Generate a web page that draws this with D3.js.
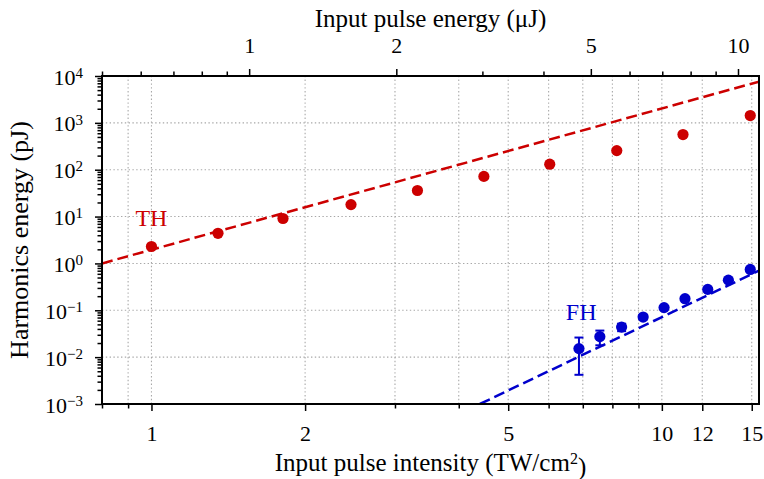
<!DOCTYPE html>
<html>
<head>
<meta charset="utf-8">
<title>Harmonics energy</title>
<script src="https://d3js.org/d3.v7.min.js"></script>
<style>
  body { margin: 0; background: #fff; }
  text { font-family: "Liberation Serif", "Times New Roman", serif; }
</style>
</head>
<body>
<script>
// 数据
var thIntensity = [1.0, 1.35, 1.81, 2.46, 3.32, 4.48, 6.03, 8.16, 11.0, 14.9];
var thEnergy = [2.3, 4.4, 9.1, 18, 36, 72, 131, 256, 563, 1430];
var fhIntensity = [6.88, 7.56, 8.34, 9.19, 10.1, 11.1, 12.3, 13.5, 14.9];
var fhEnergy = [0.0152, 0.0274, 0.0438, 0.0716, 0.114, 0.177, 0.279, 0.44, 0.745];
var fhErr = [0.011, 0.0095, 0.008, 0.008, 0.008, 0.01, 0.012, 0.015, 0.02];
// 拟合线 (两个端点)
var thFitX = [0.8, 15.5], thFitY = [1.0, 7600];
var fhFitX = [4.4, 15.5], fhFitY = [0.001, 0.70];

var bottomMajor = [1, 2, 5, 10, 12, 15];
var bottomMinor = [0.8, 0.9, 3, 4, 6, 7, 8, 9];
var topMajor = [1, 2, 5, 10];
var topMinor = [0.5, 0.6, 0.7, 0.8, 0.9, 3, 4, 6, 7, 8, 9];
var yMajor = [1e-3, 1e-2, 1e-1, 1e0, 1e1, 1e2, 1e3, 1e4];
var yMinor = [];
for (var k = -3; k < 4; k++)
    for (var m = 2; m < 10; m++) yMinor.push(m * Math.pow(10, k));

var W = 764, H = 479;
var margin = {left: 102, right: 5, top: 76, bottom: 75};
var red = "#cc0000", blue = "#0000cc";

var svg = d3.select("body").append("svg")
    .attr("width", W).attr("height", H);

var x = d3.scaleLog().domain([0.8, 15.5]).range([margin.left, W - margin.right]);
var xTop = d3.scaleLog().domain([0.5, 11.04]).range([margin.left, W - margin.right]);
var y = d3.scaleLog().domain([1e-3, 1e4]).range([H - margin.bottom, margin.top]);

// 网格
var grid = svg.append("g").attr("stroke", "#a8a8a8").attr("stroke-width", 1.1)
    .attr("stroke-dasharray", "1.4,2.4");
grid.selectAll(".vg").data(bottomMajor.concat(bottomMinor)).enter().append("line")
    .attr("x1", d => x(d)).attr("x2", d => x(d))
    .attr("y1", y.range()[0]).attr("y2", y.range()[1]);
grid.selectAll(".hg").data(yMajor).enter().append("line")
    .attr("y1", d => y(d)).attr("y2", d => y(d))
    .attr("x1", x.range()[0]).attr("x2", x.range()[1]);

// 裁剪
svg.append("clipPath").attr("id", "clip").append("rect")
    .attr("x", x.range()[0]).attr("y", y.range()[1])
    .attr("width", x.range()[1] - x.range()[0])
    .attr("height", y.range()[0] - y.range()[1]);

var plot = svg.append("g").attr("clip-path", "url(#clip)");

// 拟合虚线
function fitLine(xs, ys, color) {
    plot.append("path")
        .datum(xs.map((d, i) => [d, ys[i]]))
        .attr("fill", "none")
        .attr("stroke", color)
        .attr("stroke-width", 2.5)
        .attr("stroke-dasharray", "11,5")
        .attr("d", d3.line().x(d => x(d[0])).y(d => y(d[1])));
}
fitLine(thFitX, thFitY, red);
fitLine(fhFitX, fhFitY, blue);

// 误差棒
var eb = plot.append("g").attr("stroke", blue).attr("stroke-width", 2);
fhIntensity.forEach(function(d, i) {
    var lo = y(fhEnergy[i] - fhErr[i]), hi = y(fhEnergy[i] + fhErr[i]), cx = x(d);
    eb.append("line").attr("x1", cx).attr("x2", cx).attr("y1", lo).attr("y2", hi);
    eb.append("line").attr("x1", cx - 4.5).attr("x2", cx + 4.5).attr("y1", lo).attr("y2", lo);
    eb.append("line").attr("x1", cx - 4.5).attr("x2", cx + 4.5).attr("y1", hi).attr("y2", hi);
});

// 数据点
plot.selectAll(".th").data(thIntensity).enter().append("circle")
    .attr("cx", d => x(d)).attr("cy", (d, i) => y(thEnergy[i]))
    .attr("r", 5.6).attr("fill", red);
plot.selectAll(".fh").data(fhIntensity).enter().append("circle")
    .attr("cx", d => x(d)).attr("cy", (d, i) => y(fhEnergy[i]))
    .attr("r", 5.6).attr("fill", blue);

// 标注
svg.append("text").text("TH").attr("x", x(1.0)).attr("y", 226)
    .attr("text-anchor", "middle").attr("fill", red).style("font-size", "24px");
svg.append("text").text("FH").attr("x", x(6.95)).attr("y", 320)
    .attr("text-anchor", "middle").attr("fill", blue).style("font-size", "24px");

// 坐标轴
var fs = "22px";
function styleAxis(g) {
    g.select(".domain").remove();
    g.selectAll("line").attr("stroke", "#000").attr("stroke-width", 1.5);
    g.selectAll("text").attr("fill", "#000").style("font-size", fs).attr("font-family", null);
}
var yb = y.range()[0], yt = y.range()[1];

svg.append("g").attr("transform", "translate(0," + yb + ")")
    .call(d3.axisBottom(x).tickValues(bottomMinor).tickSize(4.5).tickFormat(""))
    .call(styleAxis);
svg.append("g").attr("transform", "translate(0," + yb + ")")
    .call(d3.axisBottom(x).tickValues(bottomMajor).tickSize(7).tickFormat(d3.format("d")))
    .call(styleAxis)
    .selectAll("text").attr("y", 37).attr("dy", null);

svg.append("g").attr("transform", "translate(0," + yt + ")")
    .call(d3.axisTop(xTop).tickValues(topMinor).tickSize(4.5).tickFormat(""))
    .call(styleAxis);
svg.append("g").attr("transform", "translate(0," + yt + ")")
    .call(d3.axisTop(xTop).tickValues(topMajor).tickSize(7).tickFormat(d3.format("d")))
    .call(styleAxis)
    .selectAll("text").attr("y", -23).attr("dy", null);

svg.append("g").attr("transform", "translate(" + margin.left + ",0)")
    .call(d3.axisLeft(y).tickValues(yMinor).tickSize(4.5).tickFormat(""))
    .call(styleAxis);
var yAxis = svg.append("g").attr("transform", "translate(" + margin.left + ",0)")
    .call(d3.axisLeft(y).tickValues(yMajor).tickSize(7).tickFormat(""))
    .call(styleAxis);
yAxis.selectAll(".tick").append("text")
    .attr("x", -19).attr("y", 8).attr("text-anchor", "end")
    .style("font-size", fs).attr("fill", "#000")
    .each(function(d) {
        var t = d3.select(this);
        t.append("tspan").text("10");
        t.append("tspan").text(Math.round(Math.log10(d)).toString().replace("-", "\u2212"))
            .attr("dy", "-0.45em").style("font-size", "15px");
    });

// 边框
svg.append("rect")
    .attr("x", x.range()[0]).attr("y", yt)
    .attr("width", x.range()[1] - x.range()[0]).attr("height", yb - yt)
    .attr("fill", "none").attr("stroke", "#000").attr("stroke-width", 2);

// 轴标题
var bt = svg.append("text").attr("x", (x.range()[0] + x.range()[1]) / 2).attr("y", 471)
    .attr("text-anchor", "middle").style("font-size", "25px");
bt.append("tspan").text("Input pulse intensity (TW/cm");
bt.append("tspan").text("2").attr("dy", "-0.45em").style("font-size", "16px");
bt.append("tspan").text(")").attr("dy", "0.45em");

svg.append("text").attr("x", (x.range()[0] + x.range()[1]) / 2).attr("y", 27)
    .attr("text-anchor", "middle").style("font-size", "25px")
    .text("Input pulse energy (\u03bcJ)");

svg.append("text").attr("transform", "translate(28," + (yt + yb) / 2 + ") rotate(-90)")
    .attr("text-anchor", "middle").style("font-size", "26px")
    .text("Harmonics energy (pJ)");
</script>
</body>
</html>
